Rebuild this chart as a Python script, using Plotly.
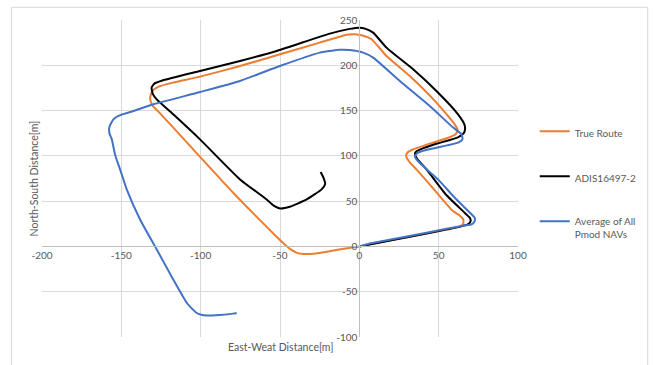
import plotly.graph_objects as go

# True route (orange)
true_x = [0, 20, 45, 63, 65.5, 65.5, 63, 59, 48, 36, 31.5, 29.5, 30.5, 33, 44.4, 56, 60.5, 62, 60.1,
          48.6, 31.8, 17.1, 7.7, 2, -3, -8, -24.9, -52.1, -75.2, -100.4, -117.3, -126.5, -130.5,
          -131.9, -130.5, -126, -104.7, -79.5, -52, -47.5, -43.5, -40, -36.5, -29, -18.6, -10.2, 0]
true_y = [0, 6.8, 15.2, 21.5, 25, 30, 34.5, 39, 61, 85, 93.5, 99.8, 104, 106.5, 113.5, 120, 123.5, 128, 134.8,
          158.8, 188.2, 210.3, 228.7, 232.8, 234.3, 233.8, 225, 211, 199.2, 187.5, 180.9, 176.5, 171.5,
          163.5, 156, 147.7, 107.2, 59.3, 10.5, 3, -3, -6.5, -8.2, -8.1, -5.4, -2.6, 0]

# ADIS16497-2 solution (black)
adis_x = [0, 25, 50, 66, 69, 70.2, 69.6, 66.5, 55, 42.3, 36.5, 35, 36, 39, 48.6, 62.2, 65.8, 66.6, 66.2,
          62.2, 48.6, 33.9, 17.1, 8.7, 4, 0, -6, -18.6, -52.1, -75.2, -100.4, -124.5, -129, -130.9,
          -130.2, -127.7, -117.3, -100.4, -75.2, -58.4, -54, -50, -43.8, -33.2, -23.8, -21.5, -22.5, -24.4]
adis_y = [0, 8.5, 17, 23, 25, 28.5, 31.7, 37, 56.5, 85.1, 96.5, 101.7, 105, 107.5, 113.3, 120.5, 125, 129.3, 134.8,
          145.9, 171.6, 195.6, 219.5, 236.1, 240.2, 241.5, 240.2, 235, 215.8, 204.8, 193.7, 183, 180, 175.4,
          168.5, 162.4, 145.9, 118.2, 74.0, 51.9, 45, 42, 43.9, 51.9, 63, 69, 75.5, 82.1]

# Average of all Pmod NAV solutions (blue)
pmod_x = [0, 6.6, 30, 55, 66, 70.7, 72.7, 72.7, 71, 60, 49.6, 40, 36, 35, 37, 42, 48.6, 62.2, 65, 64.4,
          59.1, 44.4, 25.5, 8.7, 2.4, -6, -12.3, -18.6, -24.9, -50.1, -75.2, -100.4, -129.8, -142.4,
          -150, -155, -157.5, -157.5, -156, -153.9, -150.8, -146.6, -138.2, -127.7, -117.3, -108.8,
          -105, -102.5, -99, -96.2, -88, -79.5, -77.3]
pmod_y = [0, 3.3, 11, 19.5, 23, 24.3, 28, 31.7, 35, 54, 74, 89, 96.1, 99.8, 103.5, 106.5, 109, 114.6, 118.2, 123.8,
          131.2, 155, 182.7, 208.5, 214, 216.9, 217.2, 215.8, 214, 199.2, 182.7, 170.5, 156.9, 149.5,
          145.5, 140.3, 132, 125, 118.2, 101, 85.1, 63, 29.8, -3.3, -36.5, -62.2,
          -69.5, -73.5, -75.8, -76.2, -75.6, -74.2, -73.5]

x_ticks = [-200, -150, -100, -50, 0, 50, 100]
y_ticks = [-100, -50, 0, 50, 100, 150, 200, 250]

font_family = "Lato, 'Open Sans', sans-serif"
text_grey = "#595959"
grid_grey = "#d9d9d9"
axis_grey = "#bfbfbf"

series = [
    ("True Route", true_x, true_y, "#ED7D31"),
    ("ADIS16497-2", adis_x, adis_y, "#000000"),
    ("Average of All<br>Pmod NAVs", pmod_x, pmod_y, "#4472C4"),
]

fig = go.Figure()
for i, (name, xs, ys, color) in enumerate(series):
    fig.add_trace(go.Scatter(
        x=xs, y=ys, name=name, mode="lines", legendgroup=f"g{i}",
        line=dict(color=color, width=2, shape="spline", smoothing=0.5),
    ))

x_min, x_max = -200, 100
y_min, y_max = -100, 250

fig.update_layout(
    width=653, height=365,
    margin=dict(l=42, r=134, t=20, b=28, pad=0),
    paper_bgcolor="white", plot_bgcolor="white",
    font=dict(family=font_family, size=10, color=text_grey),
    xaxis=dict(
        range=[x_min, x_max], tickvals=x_ticks, ticktext=[str(v) for v in x_ticks],
        showgrid=True, gridcolor=grid_grey, gridwidth=1,
        zeroline=False, showline=True, linecolor=axis_grey, linewidth=1,
        anchor="free", position=(0 - y_min) / (y_max - y_min),
        ticks="", tickfont=dict(size=10, color=text_grey),
    ),
    yaxis=dict(
        range=[y_min, y_max], tickvals=y_ticks, ticktext=[str(v) for v in y_ticks],
        showgrid=True, gridcolor=grid_grey, gridwidth=1,
        zeroline=False, showline=True, linecolor=axis_grey, linewidth=1,
        anchor="free", position=(0 - x_min) / (x_max - x_min),
        ticks="", tickfont=dict(size=10, color=text_grey),
    ),
    legend=dict(
        x=1.033, y=0.69, xanchor="left", yanchor="top",
        tracegroupgap=26, valign="top",
        font=dict(size=10, color=text_grey),
        bgcolor="rgba(0,0,0,0)",
    ),
    showlegend=True,
)

# axis titles
fig.add_annotation(text="East-Weat Distance[m]", xref="paper", yref="paper",
                   x=0.5, y=-0.0315, xanchor="center", yanchor="middle",
                   showarrow=False, font=dict(size=10.5, color=text_grey))
fig.add_annotation(text="North-South Distance[m]", xref="paper", yref="paper",
                   x=-0.017, y=0.5, xanchor="center", yanchor="middle", textangle=-90,
                   showarrow=False, font=dict(size=10.5, color=text_grey))

# chart frame
fig.add_shape(type="rect", xref="paper", yref="paper",
              x0=(11.5 - 42) / 477, x1=(649 - 42) / 477,
              y0=-0.2, y1=(337 - 7.3) / 317,
              line=dict(color=grid_grey, width=1), layer="below")

fig.write_html("out.html")
